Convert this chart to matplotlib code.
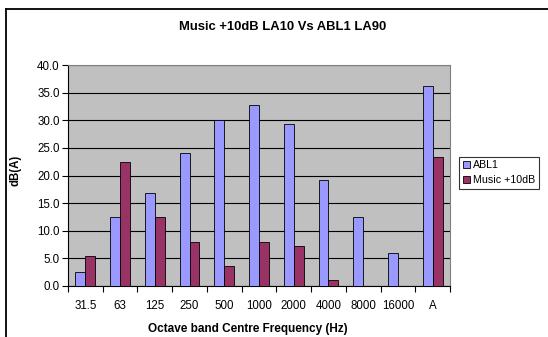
import matplotlib
matplotlib.use("Agg")
import matplotlib.pyplot as plt
from matplotlib.lines import Line2D
import numpy as np

plt.rcParams['font.family'] = ['Liberation Sans', 'DejaVu Sans']

categories = ["31.5", "63", "125", "250", "500", "1000", "2000", "4000", "8000", "16000", "A"]
abl1 = [2.5, 12.4, 16.9, 24.0, 30.0, 32.8, 29.4, 19.1, 12.4, 6.0, 36.2]
music = [5.5, 22.5, 12.4, 7.9, 3.7, 7.9, 7.2, 1.0, 0.0, 0.0, 23.4]
y_ticks = [0, 5, 10, 15, 20, 25, 30, 35, 40]

W, H = 548, 337
fig = plt.figure(figsize=(W / 100, H / 100), dpi=100)
fig.patch.set_facecolor("white")

# chart frame (left and top edges)
fig.add_artist(Line2D([5.5 / W, 5.5 / W], [0, 1 - 9 / H], transform=fig.transFigure,
                      color="black", lw=1.3))
fig.add_artist(Line2D([5.5 / W, 1], [1 - 9 / H, 1 - 9 / H], transform=fig.transFigure,
                      color="black", lw=1.3))

left, right, top, bottom = 68, 450, 65, 286
ax = fig.add_axes([left / W, 1 - bottom / H, (right - left) / W, (bottom - top) / H])
ax.set_facecolor("#C0C0C0")

x = np.arange(len(categories))
bw = 1 / 3.5
ax.bar(x - bw / 2, abl1, bw, color="#9999FF", edgecolor="black", linewidth=0.6,
       label="ABL1", zorder=3)
ax.bar(x + bw / 2, music, bw, color="#993366", edgecolor="black", linewidth=0.6,
       label="Music +10dB", zorder=3)

ax.set_xlim(-0.5, len(categories) - 0.5)
ax.set_ylim(0, 40)
ax.set_yticks(y_ticks)
ax.set_yticklabels([f"{v:.1f}" for v in y_ticks], fontsize=8.3)
ax.yaxis.grid(True, color="black", lw=0.8, zorder=1)
ax.set_axisbelow(True)

ax.set_xticks(x)
ax.set_xticklabels(categories, fontsize=8.3)
ax.tick_params(axis="x", length=0, pad=10)
ax.set_xticks(np.arange(len(categories) + 1) - 0.5, minor=True)
ax.tick_params(axis="x", which="minor", length=4, width=0.8, direction="out")
ax.tick_params(axis="y", length=4, width=0.8, direction="out", pad=2)

for s in ["top", "right"]:
    ax.spines[s].set_color("#808080")
    ax.spines[s].set_linewidth(0.8)
for s in ["left", "bottom"]:
    ax.spines[s].set_color("black")
    ax.spines[s].set_linewidth(0.8)

# axis titles
fig.text(248 / W, 1 - 329 / H, "Octave band Centre Frequency (Hz)", ha="center", va="center",
         fontsize=8.5, fontweight="bold")
fig.text(16 / W, 1 - 170 / H, "dB(A)", ha="center", va="center", rotation=90,
         fontsize=8.3, fontweight="bold")

fig.text(282.5 / W, 1 - 27 / H, "Music +10dB LA10 Vs ABL1 LA90", ha="center", va="center",
         fontsize=9.4, fontweight="bold")

leg = ax.legend(loc="upper left", bbox_to_anchor=(459 / W, 1 - 156.5 / H),
                bbox_transform=fig.transFigure, fontsize=7.7, frameon=True, fancybox=False,
                handlelength=0.7, handleheight=0.7, handletextpad=0.3, borderpad=0.35,
                labelspacing=0.45, borderaxespad=0)
leg.get_frame().set_edgecolor("black")
leg.get_frame().set_linewidth(0.8)

fig.savefig("out.png", dpi=100)
